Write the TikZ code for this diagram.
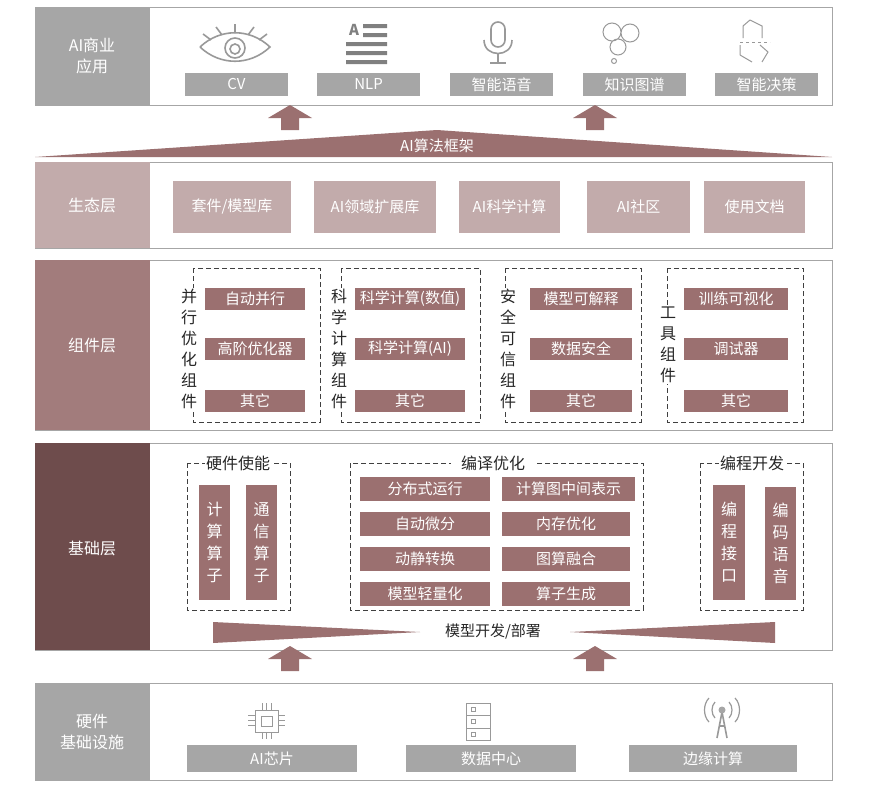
\documentclass[tikz,border=0pt]{standalone}
\usepackage{fontspec}
\setmainfont{Noto Sans CJK SC}
\begin{document}
\begin{tikzpicture}[x=1pt,y=-1pt,
 layer/.style={draw=gray!70,line width=1pt,fill=white},
 gbox/.style={fill=gray!70,text=white,font=\fontsize{15}{15}\selectfont,inner sep=0},
 ebox/.style={fill=eco,text=white,font=\fontsize{15}{15}\selectfont,inner sep=0},
 rbox/.style={fill=mauve,text=white,font=\fontsize{15}{15}\selectfont,inner sep=0},
 vbox/.style={fill=mauve,text=white,font=\fontsize{16}{22}\selectfont,inner sep=0,align=center},
 lab/.style={text=white,font=\fontsize{16}{21}\selectfont,align=center},
 grp/.style={draw=darkgray,dash pattern=on 5pt off 3pt,line width=1pt},
 vtxt/.style={fill=white,font=\fontsize{16}{21}\selectfont,align=center,inner sep=1pt,text=black!85},
 icon/.style={draw=gray!80,line width=1.6pt}]
\definecolor{mauve}{HTML}{9B7070}
\definecolor{eco}{HTML}{C2ABAB}
\definecolor{compl}{HTML}{A27C7C}
\definecolor{basel}{HTML}{6E4C4C}
\useasboundingbox (0,0) rectangle (880,790);
\newcommand\bx[5]{\node[#1,minimum width=#3-#2,minimum height=#5-#4] at ({(#2+#3)/2},{(#4+#5)/2})}
\newcommand\myup[2]{\fill[mauve] (#1-9,#2+25) -- (#1-9,#2+13) -- (#1-22,#2+13) -- (#1,#2) -- (#1+22,#2+13) -- (#1+9,#2+13) -- (#1+9,#2+25) -- cycle;}
% ===== top layer
\draw[layer] (35,7) rectangle (832,105);
\fill[gray!70] (35,7) rectangle (150,105);
\node[lab] (lapp) at (92,56) {AI商业\\应用};
\bx{gbox}{185}{288}{73}{96} (cv) {CV};
\bx{gbox}{317}{420}{73}{96} (nlp) {NLP};
\bx{gbox}{450}{553}{73}{96} (yy) {智能语音};
\bx{gbox}{583}{686}{73}{96} (zs) {知识图谱};
\bx{gbox}{715}{818}{73}{96} (jc) {智能决策};
% icons
\draw[icon] (200,47) .. controls (220,28) and (250,28) .. (270,47) .. controls (250,66) and (220,66) .. (200,47);
\draw[icon] (235,48) circle (10); \draw[icon] (235,49) circle (5);
\draw[icon] (235,33)--(235,24) (222,35)--(216,27) (248,35)--(254,27) (211,40)--(203,34) (259,40)--(267,34);
\node[font=\bfseries\fontsize{15}{15}\selectfont,text=gray] (ia) at (354,30) {A};
\fill[gray] (363,24) rectangle (387,28) (363,33) rectangle (387,37) (346,42) rectangle (387,46) (346,51) rectangle (387,55) (346,60) rectangle (387,64);
\draw[icon,rounded corners=7] (491,22) rectangle (505,47);
\draw[icon] (484,40) .. controls (484,58) and (512,58) .. (512,40);
\draw[icon] (498,53)--(498,63) (490,63)--(506,63);
\draw[icon,line width=1pt] (612,32) circle (9) (630,33) circle (9) (618,47) circle (8) (614,61) circle (2.5);
\draw[icon,line width=1pt] (750,20)--(762,26)--(762,38) (743,38)--(743,26)--(750,20) (740,55)--(740,45) (752,62)--(740,55) (760,45)--(768,52)--(762,62);
\draw[icon,line width=1pt,dashed] (740,42)--(770,42);
% arrows
\myup{290}{105}
\myup{595}{105}
\fill[mauve] (35,157) -- (437,130) -- (832,157) -- cycle;
\node[text=white,font=\fontsize{15}{15}\selectfont] (alg) at (437,146) {AI算法框架};
% ===== ecology
\draw[layer] (35,162) rectangle (832,248);
\fill[eco] (35,162) rectangle (150,248);
\node[lab] (leco) at (92,205) {生态层};
\bx{ebox}{173}{291}{181}{233} (e1) {套件/模型库};
\bx{ebox}{314}{436}{181}{233} (e2) {AI领域扩展库};
\bx{ebox}{459}{560}{181}{233} (e3) {AI科学计算};
\bx{ebox}{587}{690}{181}{233} (e4) {AI社区};
\bx{ebox}{704}{805}{181}{233} (e5) {使用文档};
% ===== component
\draw[layer] (35,260) rectangle (832,430);
\fill[compl] (35,260) rectangle (150,430);
\node[lab] (lcomp) at (92,345) {组件层};
\draw[grp] (193,268) rectangle (320,422);
\draw[grp] (341,268) rectangle (480,422);
\draw[grp] (505,268) rectangle (641,422);
\draw[grp] (667,268) rectangle (803,422);
\node[vtxt] (v1) at (189,349) {并\\行\\优\\化\\组\\件};
\node[vtxt] (v2) at (339,349) {科\\学\\计\\算\\组\\件};
\node[vtxt] (v3) at (508,349) {安\\全\\可\\信\\组\\件};
\node[vtxt] (v4) at (668,345) {工\\具\\组\\件};
\bx{rbox}{205}{305}{288}{310} (c11) {自动并行};
\bx{rbox}{205}{305}{338}{360} (c12) {高阶优化器};
\bx{rbox}{205}{305}{390}{412} (c13) {其它};
\bx{rbox}{355}{465}{288}{310} (c21) {科学计算(数值)};
\bx{rbox}{355}{465}{338}{360} (c22) {科学计算(AI)};
\bx{rbox}{355}{465}{390}{412} (c23) {其它};
\bx{rbox}{530}{632}{288}{310} (c31) {模型可解释};
\bx{rbox}{530}{632}{338}{360} (c32) {数据安全};
\bx{rbox}{530}{632}{390}{412} (c33) {其它};
\bx{rbox}{684}{788}{288}{310} (c41) {训练可视化};
\bx{rbox}{684}{788}{338}{360} (c42) {调试器};
\bx{rbox}{684}{788}{390}{412} (c43) {其它};
% ===== base
\draw[layer] (35,443) rectangle (832,650);
\fill[basel] (35,443) rectangle (150,650);
\node[lab] (lbase) at (92,548) {基础层};
\draw[grp] (187,463) rectangle (290,610);
\draw[grp] (350,463) rectangle (643,610);
\draw[grp] (700,463) rectangle (803,610);
\node[vtxt] (g1) at (238,463) {硬件使能};
\node[vtxt,inner xsep=10pt] (g2) at (493,463) {编译优化};
\node[vtxt] (g3) at (752,463) {编程开发};
\bx{vbox}{199}{230}{485}{600} (b1) {计\\算\\算\\子};
\bx{vbox}{246}{277}{485}{600} (b2) {通\\信\\算\\子};
\bx{vbox}{713}{745}{485}{600} (b3) {编\\程\\接\\口};
\bx{vbox}{765}{796}{487}{600} (b4) {编\\码\\语\\音};
\bx{rbox}{360}{490}{477}{501} (d1) {分布式运行};
\bx{rbox}{502}{635}{477}{501} (d2) {计算图中间表示};
\bx{rbox}{360}{490}{512}{536} (d3) {自动微分};
\bx{rbox}{502}{630}{512}{536} (d4) {内存优化};
\bx{rbox}{360}{490}{547}{571} (d5) {动静转换};
\bx{rbox}{502}{630}{547}{571} (d6) {图算融合};
\bx{rbox}{360}{490}{582}{606} (d7) {模型轻量化};
\bx{rbox}{502}{630}{582}{606} (d8) {算子生成};
\fill[mauve] (213,622) -- (420,632) -- (213,643) -- cycle;
\fill[mauve] (775,622) -- (570,632) -- (775,643) -- cycle;
\node[font=\fontsize{15}{15}\selectfont,text=black!85] (dev) at (493,632) {模型开发/部署};
\myup{290}{646}
\myup{595}{646}
% ===== hardware
\draw[layer] (35,683) rectangle (832,780);
\fill[gray!70] (35,683) rectangle (150,780);
\node[lab] (lhw) at (92,732) {硬件\\基础设施};
\bx{gbox}{187}{357}{745}{772} (h1) {AI芯片};
\bx{gbox}{406}{576}{745}{772} (h2) {数据中心};
\bx{gbox}{629}{797}{745}{772} (h3) {边缘计算};
\draw[icon,line width=1pt] (255,710) rectangle (278,732) (261,716) rectangle (272,726);
\foreach \i in {0,1,2} {\draw[icon,line width=1pt] (262+4.5*\i,703)--(262+4.5*\i,710) (262+4.5*\i,732)--(262+4.5*\i,739) (248,715+5*\i)--(255,715+5*\i) (278,715+5*\i)--(285,715+5*\i);}
\draw[icon,line width=1pt] (466,703) rectangle (490,740) (466,715)--(490,715) (466,728)--(490,728);
\foreach \y in {709,721,734} \draw[icon,line width=1pt] (471,\y-2) rectangle (475,\y+2);
\draw[icon] (717,738)--(722,712)--(727,738) (719,726)--(725,726);
\fill[gray!70] (722,710) circle (3.5);
\draw[icon,line width=1.2pt] (715,702) .. controls (711,706) and (711,714) .. (715,718)
  (729,702) .. controls (733,706) and (733,714) .. (729,718)
  (709,698) .. controls (703,704) and (703,716) .. (709,722)
  (735,698) .. controls (741,704) and (741,716) .. (735,722);
\end{tikzpicture}
\end{document}
